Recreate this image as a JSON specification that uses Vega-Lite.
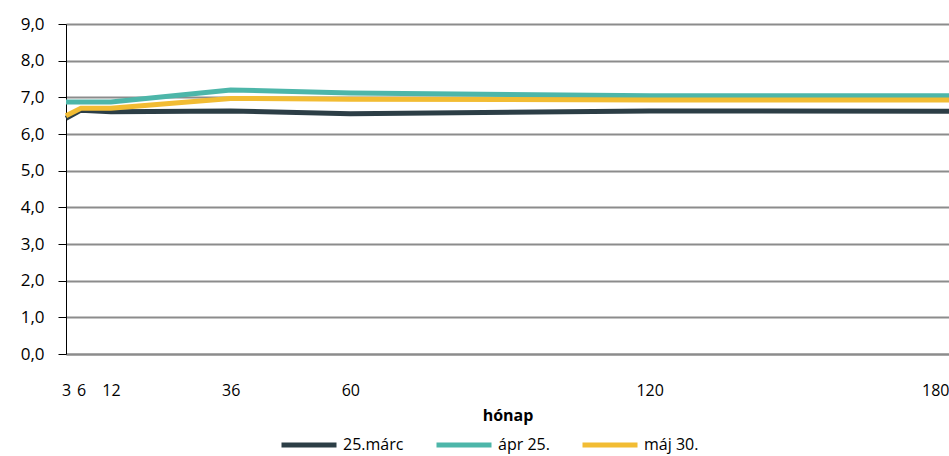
{
  "$schema": "https://vega.github.io/schema/vega-lite/v6.json",
  "width": 883,
  "height": 330,
  "autosize": "none",
  "padding": {"left": 66, "top": 24, "right": 0, "bottom": 102},
  "background": "white",
  "config": {
    "view": {"stroke": null},
    "font": "Open Sans",
    "axis": {"labelFont": "Open Sans", "titleFont": "Open Sans", "labelColor": "#000", "titleColor": "#000"},
    "legend": {"labelFont": "Open Sans", "labelColor": "#000"}
  },
  "data": {
    "values": [
      {"honap": 3, "sorozat": "25.márc", "ertek": 6.43},
      {"honap": 6, "sorozat": "25.márc", "ertek": 6.65},
      {"honap": 12, "sorozat": "25.márc", "ertek": 6.61},
      {"honap": 36, "sorozat": "25.márc", "ertek": 6.63},
      {"honap": 60, "sorozat": "25.márc", "ertek": 6.55},
      {"honap": 120, "sorozat": "25.márc", "ertek": 6.63},
      {"honap": 180, "sorozat": "25.márc", "ertek": 6.62},
      {"honap": 3, "sorozat": "ápr 25.", "ertek": 6.87},
      {"honap": 6, "sorozat": "ápr 25.", "ertek": 6.87},
      {"honap": 12, "sorozat": "ápr 25.", "ertek": 6.87},
      {"honap": 36, "sorozat": "ápr 25.", "ertek": 7.2},
      {"honap": 60, "sorozat": "ápr 25.", "ertek": 7.12},
      {"honap": 120, "sorozat": "ápr 25.", "ertek": 7.04},
      {"honap": 180, "sorozat": "ápr 25.", "ertek": 7.04},
      {"honap": 3, "sorozat": "máj 30.", "ertek": 6.5},
      {"honap": 6, "sorozat": "máj 30.", "ertek": 6.7},
      {"honap": 12, "sorozat": "máj 30.", "ertek": 6.7},
      {"honap": 36, "sorozat": "máj 30.", "ertek": 6.97},
      {"honap": 60, "sorozat": "máj 30.", "ertek": 6.95},
      {"honap": 120, "sorozat": "máj 30.", "ertek": 6.93},
      {"honap": 180, "sorozat": "máj 30.", "ertek": 6.93}
    ]
  },
  "mark": {"type": "line", "strokeWidth": 5},
  "encoding": {
    "x": {
      "field": "honap",
      "type": "quantitative",
      "scale": {"domain": [3, 180], "nice": false, "zero": false},
      "axis": {
        "title": "hónap",
        "titleFontWeight": "bold",
        "titleFontSize": 16,
        "titlePadding": 9,
        "values": [3, 6, 12, 36, 60, 120, 180],
        "labelFontSize": 16,
        "labelPadding": 28,
        "labelFlush": false,
        "labelBound": false,
        "labelAlign": {"expr": "datum.value == 180 ? 'right' : 'center'"},
        "labelOverlap": false,
        "ticks": false,
        "grid": false,
        "domainColor": "#8c8c8c",
        "domainWidth": 2
      }
    },
    "y": {
      "field": "ertek",
      "type": "quantitative",
      "scale": {"domain": [0, 9], "nice": false},
      "axis": {
        "title": null,
        "values": [0, 1, 2, 3, 4, 5, 6, 7, 8, 9],
        "labelExpr": "replace(format(datum.value, '.1f'), '.', ',')",
        "labelFontSize": 17,
        "labelPadding": 14,
        "tickSize": 8,
        "tickColor": "#000",
        "domainColor": "#000",
        "domainWidth": 1,
        "gridColor": "#8c8c8c",
        "gridWidth": 2
      }
    },
    "color": {
      "field": "sorozat",
      "type": "nominal",
      "sort": ["25.márc", "ápr 25.", "máj 30."],
      "scale": {"domain": ["25.márc", "ápr 25.", "máj 30."], "range": ["#2c3e46", "#4db6a9", "#f2bc33"]},
      "legend": {
        "title": null,
        "orient": "none",
        "legendX": 213,
        "legendY": 391,
        "direction": "horizontal",
        "symbolType": "stroke",
        "symbolSize": 3025,
        "symbolStrokeWidth": 5,
        "labelFontSize": 16,
        "labelOffset": 4,
        "columnPadding": 22
      }
    }
  }
}
